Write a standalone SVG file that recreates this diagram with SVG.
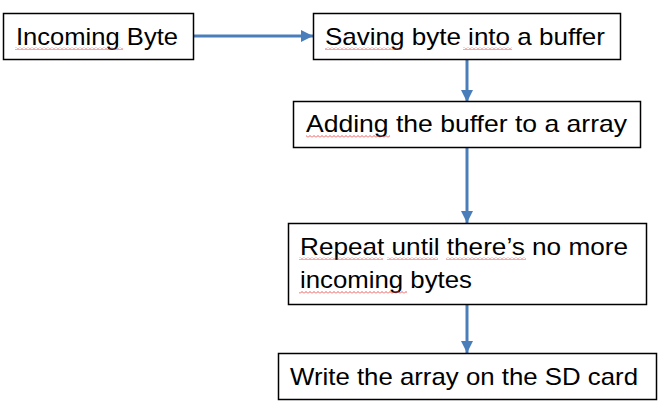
<svg xmlns="http://www.w3.org/2000/svg" width="664" height="411" viewBox="0 0 664 411">
<defs>
<marker id="ah" viewBox="0 0 10 10" refX="10" refY="5" markerWidth="4" markerHeight="4" markerUnits="strokeWidth" orient="auto">
<path d="M0,0 L10,5 L0,10 z" fill="#4a7ebb"/>
</marker>
<pattern id="sq" x="0" y="0" width="4" height="3" patternUnits="userSpaceOnUse">
<path d="M0,2.5 L2,0.5 L4,2.5" fill="none" stroke="#e03030" stroke-width="0.8"/>
</pattern>
</defs>
<style>
.box{fill:#fff;stroke:#000;stroke-width:1.5}
.t{font-family:"Liberation Sans",Arial,sans-serif;font-size:24px;fill:#000}
.c{stroke:#4a7ebb;stroke-width:3;fill:none;marker-end:url(#ah)}
.s{fill:url(#sq)}
</style>
<rect width="664" height="411" fill="#fff"/>
<g id="connectors">
<line class="c" x1="193" y1="36" x2="313" y2="36"/>
<line class="c" x1="467" y1="59" x2="467" y2="102"/>
<line class="c" x1="467" y1="147" x2="467" y2="223"/>
<line class="c" x1="467" y1="304" x2="467" y2="353"/>
</g>
<g id="n1">
<rect class="box" x="3.5" y="13.5" width="190" height="46"/>
<text class="t" x="16" y="45" textLength="162" lengthAdjust="spacingAndGlyphs">Incoming Byte</text>
<rect class="s" x="15" y="47" width="108" height="3"/>
</g>
<g id="n2">
<rect class="box" x="313.5" y="13.5" width="307" height="46"/>
<text class="t" x="325" y="45" textLength="280" lengthAdjust="spacingAndGlyphs">Saving byte into a buffer</text>
<rect class="s" x="325" y="47" width="77" height="3"/>
<rect class="s" x="463" y="47" width="49" height="3"/>
</g>
<g id="n3">
<rect class="box" x="293.5" y="101.5" width="347" height="46"/>
<text class="t" x="306" y="132" textLength="321" lengthAdjust="spacingAndGlyphs">Adding the buffer to a array</text>
<rect class="s" x="306" y="135" width="84" height="3"/>
</g>
<g id="n4">
<rect class="box" x="288.5" y="223.5" width="358" height="81"/>
<text class="t" x="300" y="255" textLength="328" lengthAdjust="spacingAndGlyphs">Repeat until there’s no more</text>
<text class="t" x="300" y="288" textLength="172" lengthAdjust="spacingAndGlyphs">incoming bytes</text>
<rect class="s" x="299" y="257" width="84" height="3"/>
<rect class="s" x="387" y="257" width="51" height="3"/>
<rect class="s" x="446" y="257" width="80" height="3"/>
<rect class="s" x="299" y="291" width="108" height="3"/>
</g>
<g id="n5">
<rect class="box" x="278.5" y="353.5" width="378" height="46"/>
<text class="t" x="290" y="385" textLength="348" lengthAdjust="spacingAndGlyphs">Write the array on the SD card</text>
</g>
</svg>
